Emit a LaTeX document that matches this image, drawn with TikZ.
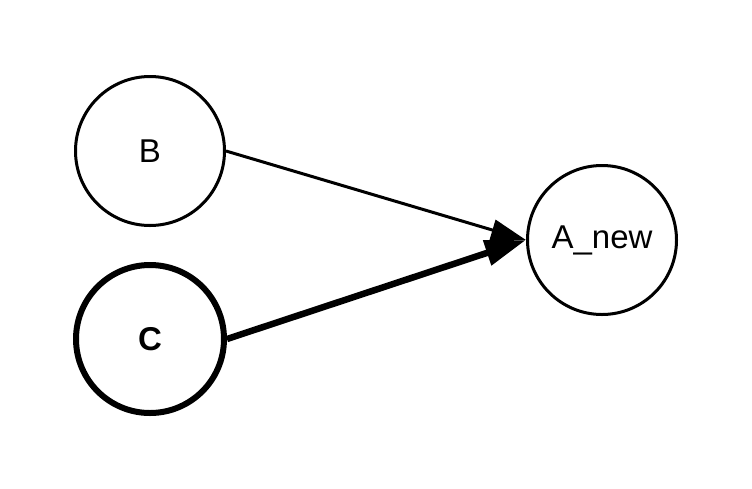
\documentclass[tikz,border=0pt]{standalone}
\usepackage{fontspec}
\setmainfont{Liberation Sans}
\usetikzlibrary{arrows.meta}
\begin{document}
\begin{tikzpicture}[x=1pt,y=-1pt,
  vertex/.style={circle,draw=black,line width=3pt,minimum size=149pt,inner sep=0pt,font=\fontsize{33}{39}\selectfont},
  boldvertex/.style={vertex,line width=6pt,minimum size=148pt,font=\fontsize{33}{39}\selectfont\bfseries},
  thinedge/.style={line width=3pt,-{Triangle[length=35pt,width=21pt]}},
  thickedge/.style={line width=6.5pt,-{Triangle[length=41pt,width=25pt]}}]
\useasboundingbox (0,0) rectangle (752,488);
\node[vertex] (B) at (150,151) {B};
\node[boldvertex] (C) at (150,339) {C};
\node[vertex] (A) at (602,240) {A\_new};
\draw[thinedge] (B.east) -- (A.west);
\draw[thickedge] (C.east) -- (A.west);
\end{tikzpicture}
\end{document}
